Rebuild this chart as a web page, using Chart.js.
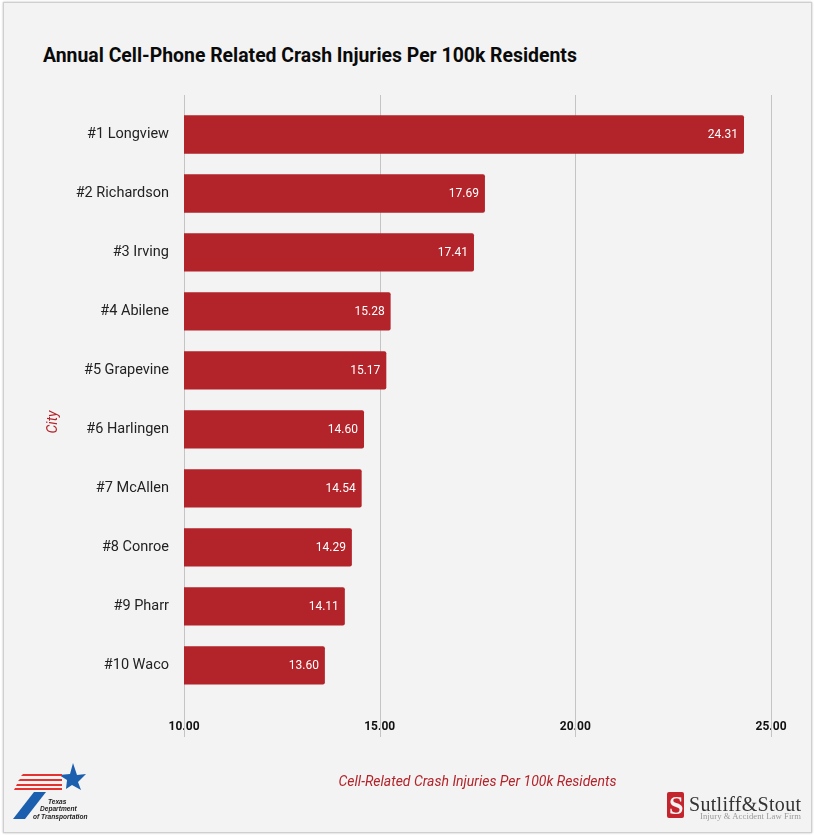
<!DOCTYPE html>
<html><head><meta charset="utf-8">
<script src="https://cdn.jsdelivr.net/npm/chart.js@4"></script>
<style>
html,body{margin:0;padding:0;background:#fff;width:814px;height:835px;overflow:hidden}
#card{position:absolute;left:3px;top:2px;width:807px;height:829px;background:#f3f3f3;border:1px solid #cfcfcf;box-shadow:0 0 2px #bbb}
#wrap{position:absolute;left:0;top:0;width:814px;height:835px}
h1{position:absolute;left:43px;top:44px;margin:0;font:700 19.4px Roboto;color:#0a0a0a;white-space:nowrap}
.logo{position:absolute}
</style></head><body>
<div id="card"></div>
<h1>Annual Cell-Phone Related Crash Injuries Per 100k Residents</h1>
<div id="wrap"><canvas id="c" width="814" height="835"></canvas></div>
<svg class="logo" style="left:10px;top:760px" width="84" height="64" viewBox="0 0 84 64">
<polygon points="63,3 67,15 76,14 68,22 71,30 62,25 56,29 57,20 49,15 60,14" fill="#1b5fae" transform="translate(0,0)"/>
<g fill="#e5322e"><polygon points="13,14 52,14 52,16 11,16"/><polygon points="10,19 52,19 52,21 8,21"/><polygon points="7,24 52,24 52,26 6,26"/><polygon points="5,28 52,28 52,30 4,30"/></g>
<polygon points="24,32 36,32 15,59 3,59" fill="#1b5fae"/>
<g font-family="Liberation Sans" font-style="italic" font-weight="700" font-size="6.6" fill="#222"><text x="38" y="44">Texas</text><text x="30" y="51">Department</text><text x="23" y="59">of Transportation</text></g>
</svg>
<svg class="logo" style="left:664px;top:790px" width="142" height="40" viewBox="0 0 142 40">
<rect x="3" y="2" width="17" height="26" rx="2" fill="#c4242b"/>
<text x="5" y="24" font-family="Liberation Serif" font-weight="700" font-size="26" fill="#f3f3f3">S</text>
<text x="25" y="21" font-family="Liberation Serif" font-size="20" fill="#333" textLength="112">Sutliff&amp;Stout</text>
<text x="36" y="29" font-family="Liberation Serif" font-size="8.6" fill="#999" textLength="101">Injury &amp; Accident Law Firm</text>
</svg>
<script>
const categories=["#1 Longview","#2 Richardson","#3 Irving","#4 Abilene","#5 Grapevine","#6 Harlingen","#7 McAllen","#8 Conroe","#9 Pharr","#10 Waco"];
const injuries=[24.31,17.69,17.41,15.28,15.17,14.60,14.54,14.29,14.11,13.60];
const xTicks=[10,15,20,25];
const barColor="#b3232a";
const accent="#b3232a";
const gridExtend={id:'gridExtend',beforeDatasetsDraw(ch){
  const {ctx,scales:{x},chartArea:a}=ch;ctx.save();ctx.strokeStyle='#c4c4c4';ctx.lineWidth=1;
  xTicks.forEach(v=>{const p=Math.round(x.getPixelForValue(v))+.5;ctx.beginPath();ctx.moveTo(p,95);ctx.lineTo(p,737);ctx.stroke();});
  ctx.restore();}};
const valueLabels={id:'valueLabels',afterDatasetsDraw(ch){
  const {ctx}=ch;ctx.save();ctx.fillStyle='#fff';ctx.font='12px Roboto';ctx.textAlign='right';ctx.textBaseline='middle';
  ch.getDatasetMeta(0).data.forEach((b,i)=>ctx.fillText(injuries[i].toFixed(2),b.x-6,b.y+1));
  ctx.restore();}};
new Chart(document.getElementById('c'),{type:'bar',
 data:{labels:categories,datasets:[{data:injuries,backgroundColor:barColor,borderRadius:{topRight:2,bottomRight:2},borderSkipped:false,categoryPercentage:1,barPercentage:.65}]},
 plugins:[gridExtend,valueLabels],
 options:{indexAxis:'y',responsive:false,animation:false,devicePixelRatio:1,
  layout:{padding:{left:0,right:43,top:105,bottom:0}},
  plugins:{legend:{display:false},tooltip:{enabled:false},title:{display:false}},
  scales:{
   x:{min:10,max:25,afterTickToLabelConversion(s){s.ticks=xTicks.map(v=>({value:v,label:v.toFixed(2)}));},
      grid:{display:false},border:{display:false},
      ticks:{color:'#111',font:{family:'Roboto',size:12,weight:'700'},padding:17,maxRotation:0},
      title:{display:true,text:'Cell-Related Crash Injuries Per 100k Residents',color:accent,font:{family:'Roboto',size:14,style:'italic'},padding:{top:23,bottom:44}}},
   y:{grid:{display:false},border:{display:false},
      ticks:{color:'#222',font:{family:'Roboto',size:14.5},padding:7},
      afterFit(s){s.width=184-0;},
      title:{display:false}}
  }}});
</script>
<div style="position:absolute;left:-28px;top:414px;width:160px;text-align:center;transform:rotate(-90deg);font:italic 14px Roboto;color:#b3232a">City</div>
</body></html>
